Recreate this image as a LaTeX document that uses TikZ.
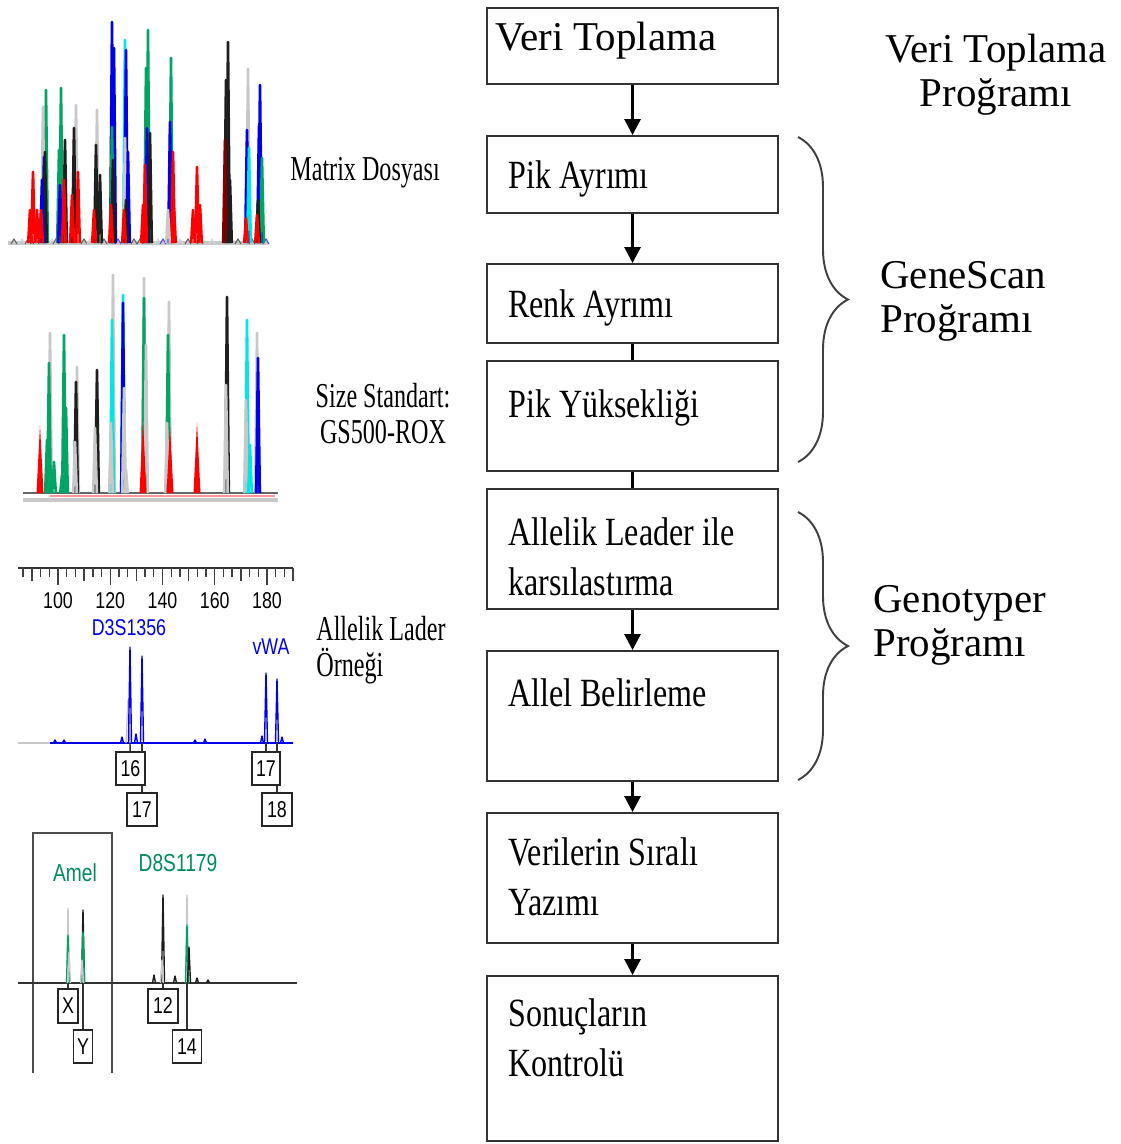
\documentclass[tikz,border=0pt]{standalone}
\usepackage{fontspec}
\setmainfont{Liberation Serif}
\newfontfamily\narrowserif{Liberation Serif}[FakeStretch=0.8]
\newfontfamily\labelserif{Liberation Serif}[FakeStretch=0.69]
\newfontfamily\tracesans{Liberation Sans}[FakeStretch=0.78]
\usetikzlibrary{arrows.meta,decorations.pathreplacing,calc,positioning}

\definecolor{trGreen}{RGB}{0,165,100}
\definecolor{trBlue}{RGB}{0,0,235}
\definecolor{trCyan}{RGB}{0,230,230}
\definecolor{trRed}{RGB}{255,0,0}
\definecolor{trGrey}{RGB}{200,200,200}
\definecolor{trBlack}{RGB}{30,30,30}
\definecolor{ladGreen}{RGB}{0,140,90}

\newcommand{\lstack}[2]{\vtop{\halign{##\hfil\cr#1\cr#2\cr}}}
\newcommand{\cstack}[2]{\vtop{\halign{\hfil##\hfil\cr#1\cr#2\cr}}}

\begin{document}
\begin{tikzpicture}[x=0.02cm, y=-0.02cm]
  \tikzset{stepbox/.style={draw=black!80, line width=1.2pt, minimum width=5.82cm,
      anchor=north west, inner sep=0pt},
    boxtext/.style={anchor=base west, inner sep=0pt,
      font=\narrowserif\fontsize{22.8}{28.7}\selectfont},
    progtext/.style={inner sep=0pt, font=\fontsize{23.3}{25.6}\selectfont},
    sidetext/.style={anchor=base west, inner sep=0pt,
      font=\labelserif\fontsize{19.9}{20.5}\selectfont},
    flow/.style={line width=1.7pt, -{Triangle[length=9pt,width=9pt]}},
    link/.style={line width=1.7pt},
    brace/.style={decorate, decoration={brace, amplitude=1cm}, line width=1.1pt, draw=black!75},
    trace/.style={line width=1.5pt, line join=round},
    thintrace/.style={line width=0.8pt, line join=round},
    allele/.style={draw=black!85, line width=0.9pt, fill=white, inner sep=0pt,
      font=\tracesans\fontsize{13}{13}\selectfont},
    allelelink/.style={draw=black!80, line width=0.8pt},
    tracelabel/.style={inner sep=0pt, font=\tracesans\fontsize{13}{13}\selectfont}}
  \fill[white] (0,0) rectangle (1121,1144);
  \useasboundingbox (0,0) rectangle (1121,1144);

  % flow chart
  \node[stepbox, minimum height=1.52cm] (veri) at (486,7) {};
  \node[stepbox, minimum height=1.54cm] (pik) at (486,135) {};
  \node[stepbox, minimum height=1.58cm] (renk) at (486,263) {};
  \node[stepbox, minimum height=2.2cm] (yuks) at (486,360) {};
  \node[stepbox, minimum height=2.4cm] (karsi) at (486,488) {};
  \node[stepbox, minimum height=2.6cm] (allel) at (486,650) {};
  \node[stepbox, minimum height=2.6cm] (sirali) at (486,812) {};
  \node[stepbox, minimum height=3.3cm] (sonuc) at (486,975) {};
  \node[boxtext, font=\fontsize{23.3}{25.6}\selectfont] (veritxt) at (495,50) {Veri Toplama};
  \node[boxtext] (piktxt) at (508,188) {Pik Ayrımı};
  \node[boxtext] (renktxt) at (508,317) {Renk Ayrımı};
  \node[boxtext] (yukstxt) at (508,417) {Pik Yüksekliği};
  \node[boxtext] (karsitxt) at (508,545) {\lstack{Allelik Leader ile}{karsılastırma}};
  \node[boxtext] (alleltxt) at (508,706) {Allel Belirleme};
  \node[boxtext] (siralitxt) at (508,865) {\lstack{Verilerin Sıralı}{Yazımı}};
  \node[boxtext] (sonuctxt) at (508,1026) {\lstack{Sonuçların}{Kontrolü}};
  \draw[flow] (veri) -- (pik);
  \draw[flow] (pik) -- (renk);
  \draw[link] (renk) -- (yuks);
  \draw[link] (yuks) -- (karsi);
  \draw[flow] (karsi) -- (allel);
  \draw[flow] (allel) -- (sirali);
  \draw[flow] (sirali) -- (sonuc);

  % programs
  \draw[brace] (798,137) -- (798,462);
  \draw[brace] (798,512) -- (798,780);
  \node[progtext, anchor=base] (vtprog) at (996,62) {\cstack{Veri Toplama}{Proğramı}};
  \node[progtext, anchor=base west] (gsprog) at (880,288) {\lstack{GeneScan}{Proğramı}};
  \node[progtext, anchor=base west] (gtprog) at (873,612) {\lstack{Genotyper}{Proğramı}};

  % side labels
  \node[sidetext] (matrix) at (290,180) {Matrix Dosyası};
  \node[sidetext, anchor=base] (sizestd) at (383,407) {\cstack{Size Standart:}{GS500-ROX}};
  \node[sidetext] (lader) at (316,640) {\lstack{Allelik Lader}{Örneği}};

  % matrix trace
  \draw[trGrey, line width=2.6pt] (8,243) -- (268,243);
  \foreach \x/\c in {14/trBlack, 22/trGrey, 28/trBlack, 36/trBlack, 52/trGrey, 56/trBlack,
      70/trGrey, 84/trBlack, 90/trGrey, 104/trBlack, 118/trBlue, 134/trBlack, 140/trBlack,
      158/trGrey, 163/trBlue, 180/trGrey, 188/trBlack, 200/trBlack, 212/trGrey, 238/trBlack,
      252/trBlack, 266/trBlue}
    \draw[\c!70, line width=0.6pt] (\x-3,244) -- (\x,239) -- (\x+3,244);
  \foreach \x/\t/\c in {33/172/trRed, 30/210/trRed, 37/210/trRed,
      46/90/trGreen, 43/107/trGrey, 44/157/trBlue, 45/152/trBlack, 42/180/trBlue, 41/210/trRed,
      61/88/trGreen, 59/150/trGreen, 60/185/trBlue, 65/140/trBlack, 64/180/trRed,
      76/105/trGrey, 74/128/trBlack, 78/172/trRed, 72/195/trRed,
      97/110/trGrey, 96/145/trBlack, 100/175/trBlack, 94/210/trRed,
      112/22/trBlue, 114/48/trBlue, 112/127/trGreen, 113/160/trBlack, 111/205/trRed,
      125/40/trCyan, 126/50/trBlue, 125/138/trGrey, 128/152/trBlue, 126/200/trBlack, 124/210/trRed,
      148/30/trGreen, 146/68/trGreen, 147/128/trBlue, 150/133/trBlack, 145/165/trRed, 143/205/trRed,
      171/58/trGreen, 170/122/trBlue, 173/152/trRed, 168/210/trGrey, 174/208/trRed,
      197/167/trRed, 193/210/trRed, 200/205/trRed,
      228/42/trBlack, 226/80/trBlack, 225/140/trRed!50!black, 230/180/trBlack,
      248/69/trGrey, 247/130/trBlue, 249/148/trCyan, 246/218/trRed,
      260/85/trBlue, 259/126/trBlue, 262/158/trGreen, 258/200/trBlack, 257/215/trRed}
    \draw[\c, trace] (\x-1.8,243) -- (\x,\t) -- (\x+1.8,243);

  % size standard trace
  \draw[trGrey, line width=2.5pt] (23,500) -- (278,500);
  \draw[trRed!40, line width=1.4pt] (50,496) -- (275,496);
  \draw[black!60, line width=1pt] (23,493) -- (278,493);
  \foreach \x/\t/\c in {50/333/trGrey, 49/363/trGreen, 47/440/trGreen, 54/462/trGreen,
      64/335/trGreen, 66/408/trGreen, 62/475/trGreen,
      77/367/trGrey, 76/382/trBlack, 75/442/trGrey,
      97/370/trBlack, 95/428/trGrey,
      113/275/trGrey, 112/320/trCyan, 111/423/trGrey,
      123/295/trCyan, 123/303/trBlue, 124/388/trGrey, 126/470/trGrey,
      144/278/trGrey, 144/298/trGreen, 146/345/trGrey,
      169/302/trGrey, 168/335/trGreen, 167/423/trGrey,
      227/297/trBlack, 226/385/trGrey,
      247/320/trCyan, 246/400/trGrey, 250/445/trCyan,
      257/333/trGrey, 258/358/trBlue, 258/435/trBlue}
    \draw[\c, trace] (\x-1.8,493) -- (\x,\t) -- (\x+1.8,493);
  \foreach \x/\t in {40/425, 143/420, 170/427, 197/422}
    \fill[trRed] (\x-3.5,493) -- (\x,\t) -- (\x+3.5,493) -- cycle;

  % ladder ruler
  \draw[black!80, line width=1.1pt] (18,568) -- (293,568);
  \foreach \i in {2,...,33} {
    \pgfmathsetmacro{\tx}{58+(\i-6)*8.708}
    \pgfmathsetmacro{\tl}{mod(\i,6)==0 ? 17 : (mod(\i,3)==0 ? 13 : 9)}
    \draw[black!75, line width=0.8pt] (\tx,568) -- (\tx,568+\tl);
  }
  \foreach \v in {100,120,140,160,180}
    \node[tracelabel, anchor=base] (r\v) at ({58+(\v-100)*2.6125},608) {\v};

  % ladder trace
  \node[tracelabel, text=trBlue] (d3s) at (129,628) {D3S1356};
  \node[tracelabel, text=trBlue] (vwa) at (271,647) {vWA};
  \draw[trGrey, thintrace] (18,743) -- (50,743);
  \draw[trBlue, thintrace] (50,743) -- (293,743);
  \draw[trGrey, thintrace] (126,743) -- (128,700) -- (130,743);
  \foreach \x/\t in {130/647, 142/656, 266/673, 277/679, 55/740, 64/740, 122/737, 136/734,
      195/740, 205/739, 262/736, 282/737}
    \draw[trBlue, thintrace] (\x-1.5,743) -- (\x,\t) -- (\x+1.5,743);
  \coordinate (p16) at (130,743);
  \coordinate (p17) at (142,743);
  \coordinate (p17v) at (266,743);
  \coordinate (p18) at (277,743);
  \node[allele, minimum width=0.58cm, minimum height=0.66cm] (a16) at (130.5,768.5) {16};
  \node[allele, minimum width=0.6cm, minimum height=0.66cm] (a17) at (142,809.5) {17};
  \node[allele, minimum width=0.56cm, minimum height=0.66cm] (a17v) at (266,768.5) {17};
  \node[allele, minimum width=0.6cm, minimum height=0.66cm] (a18) at (277,809.5) {18};
  \draw[allelelink] (p16) -- (a16);
  \draw[allelelink] (p17) -- (p17 |- a16.north);
  \draw[allelelink] (a16.south -| a17) -- (a17);
  \draw[allelelink] (p17v) -- (a17v);
  \draw[allelelink] (p18) -- (p18 |- a17v.north);
  \draw[allelelink] (a17v.south -| a18) -- (a18);

  % sample trace
  \draw[black!70, line width=0.9pt] (33,1073) -- (33,833) -- (112,833) -- (112,1073);
  \node[tracelabel, text=ladGreen, font=\tracesans\fontsize{14}{14}\selectfont] (amel) at (75,873) {Amel};
  \node[tracelabel, text=ladGreen, font=\tracesans\fontsize{14}{14}\selectfont] (d8s) at (178,863) {D8S1179};
  \draw[black!80, thintrace] (18,983) -- (297,983);
  \foreach \x/\t/\c in {68/908/trGrey, 68/935/trGreen, 69/952/trGrey, 83/910/trBlack,
      83/932/trGreen, 82/960/trGrey, 163/895/trBlack, 162/960/trGrey, 187/895/trGrey,
      187/925/trGreen, 189/947/trBlack, 154/975/trBlack, 175/976/trBlack, 197/978/trBlack,
      208/980/trBlack}
    \draw[\c, thintrace] (\x-1.5,983) -- (\x,\t) -- (\x+1.5,983);
  \coordinate (pX) at (68,983);
  \coordinate (pY) at (83,983);
  \coordinate (p12) at (163,983);
  \coordinate (p14) at (187,983);
  \node[allele, minimum width=0.4cm, minimum height=0.68cm] (aX) at (68,1006) {X};
  \node[allele, minimum width=0.38cm, minimum height=0.66cm] (aY) at (83,1046.5) {Y};
  \node[allele, minimum width=0.6cm, minimum height=0.68cm] (a12) at (163,1006) {12};
  \node[allele, minimum width=0.58cm, minimum height=0.66cm] (a14) at (187,1046.5) {14};
  \draw[allelelink] (pX) -- (aX);
  \draw[allelelink] (pY) -- (aY);
  \draw[allelelink] (p12) -- (a12);
  \draw[allelelink] (p14) -- (a14);
\end{tikzpicture}
\end{document}
